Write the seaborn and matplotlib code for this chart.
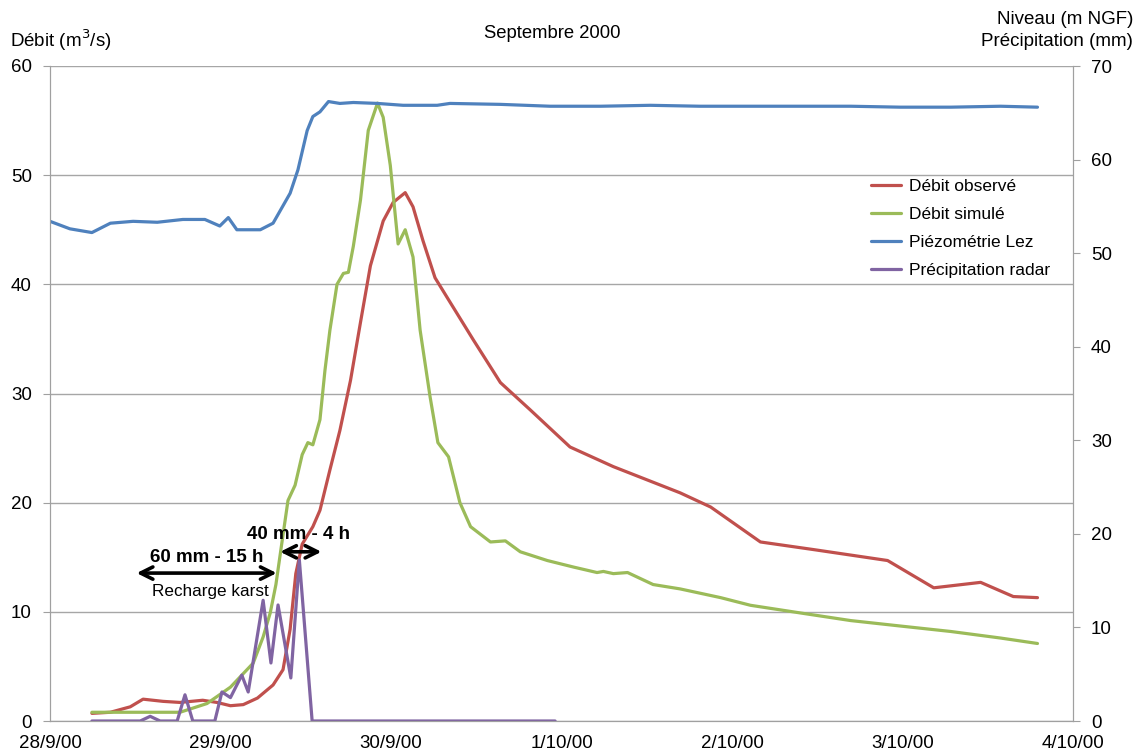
import pandas as pd
import matplotlib.pyplot as plt
import matplotlib.dates as mdates
import seaborn as sns

# hours since 28/9/2000 00:00 and values
obs_hours = [5.9, 8.5, 11.3, 13.1, 15.9, 18.3, 21.5, 23.5, 25.4, 27.2, 29.2, 31.4,
             32.8, 33.8, 34.6, 35.5, 37.0, 38.0, 39.4, 40.8, 42.3, 43.7, 45.1, 46.9,
             48.3, 50.0, 51.1, 52.5, 54.2, 55.9, 59.6, 63.4, 67.6, 73.2, 79.3, 88.7,
             93.0, 100.0, 107.5, 117.9, 124.4, 131.0, 135.6, 139.0]
obs_flow = [0.7, 0.8, 1.3, 2.0, 1.8, 1.7, 1.9, 1.7, 1.4, 1.5, 2.1, 3.3,
            4.7, 8.4, 13.5, 16.2, 17.8, 19.3, 23.0, 26.6, 31.2, 36.5, 41.7, 45.8,
            47.5, 48.4, 47.1, 44.0, 40.6, 38.8, 34.9, 31.0, 28.5, 25.1, 23.3, 20.9,
            19.6, 16.4, 15.7, 14.7, 12.2, 12.7, 11.4, 11.3]

sim_hours = [5.9, 11.3, 18.3, 22.1, 25.4, 28.6, 30.0, 31.0, 31.8, 32.7, 33.5, 34.5,
             35.5, 36.3, 37.0, 38.0, 38.7, 39.4, 40.4, 41.3, 42.0, 42.7, 43.7, 44.8,
             46.1, 46.9, 47.9, 49.0, 50.0, 51.1, 52.1, 53.5, 54.6, 56.1, 57.7, 59.2,
             62.0, 64.1, 66.2, 70.0, 73.7, 77.0, 77.9, 79.3, 81.3, 84.9, 88.7, 94.4,
             98.6, 105.6, 112.7, 119.7, 126.8, 133.8, 139.0]
sim_flow = [0.8, 0.8, 0.8, 1.6, 3.1, 5.3, 7.7, 9.9, 12.5, 16.6, 20.2, 21.6,
            24.4, 25.5, 25.3, 27.6, 32.1, 35.8, 40.0, 41.0, 41.1, 43.5, 47.7, 54.1,
            56.6, 55.3, 50.9, 43.7, 45.0, 42.5, 35.8, 29.7, 25.5, 24.2, 20.0, 17.8,
            16.4, 16.5, 15.5, 14.7, 14.1, 13.6, 13.7, 13.5, 13.6, 12.5, 12.1, 11.3,
            10.6, 9.9, 9.2, 8.7, 8.2, 7.6, 7.1]

piezo_hours = [0.0, 2.8, 5.9, 8.5, 11.7, 15.1, 18.7, 21.8, 23.9, 25.1, 26.3, 29.6,
               31.4, 33.8, 34.9, 36.2, 37.0, 38.0, 39.2, 40.8, 42.7, 46.1, 49.7, 54.5,
               56.3, 63.4, 70.4, 77.5, 84.5, 91.5, 98.6, 105.6, 112.7, 119.7, 126.8,
               133.8, 139.0]
piezo_level = [53.4, 52.6, 52.2, 53.2, 53.4, 53.3, 53.6, 53.6, 52.9, 53.8, 52.5, 52.5,
               53.2, 56.4, 58.9, 63.1, 64.6, 65.1, 66.2, 66.0, 66.1, 66.0, 65.8, 65.8,
               66.0, 65.9, 65.7, 65.7, 65.8, 65.7, 65.7, 65.7, 65.7, 65.6, 65.6,
               65.7, 65.6]

rain_hours = [5.9, 12.7, 14.1, 15.5, 17.9, 19.0, 20.1, 23.2, 24.2, 25.4, 27.0, 27.9,
              30.0, 31.1, 32.1, 33.9, 35.1, 36.9, 71.1]
rain_mm = [0, 0, 0.5, 0, 0, 2.8, 0, 0, 3.1, 2.5, 4.9, 3.1,
           12.9, 6.2, 12.4, 4.6, 17.2, 0, 0]

start = pd.Timestamp('2000-09-28')


def to_frame(hours, values):
    return pd.DataFrame({'t': start + pd.to_timedelta(hours, unit='h'), 'v': values})


def day_label(v, pos):
    d = mdates.num2date(v)
    return f'{d.day}/{d.month}/{d.year % 100:02d}'


sns.set_style('white')
plt.rcParams['font.family'] = ['Liberation Sans', 'DejaVu Sans']
plt.rcParams['text.color'] = 'black'

fig = plt.figure(figsize=(11.36, 7.54), dpi=100)
ax = fig.add_axes([50 / 1136, 1 - 721 / 754, 1023 / 1136, 655 / 754])
ax2 = ax.twinx()

line_kw = dict(lw=2.3, solid_joinstyle='round', solid_capstyle='round', legend=False)
sns.lineplot(data=to_frame(obs_hours, obs_flow), x='t', y='v', ax=ax,
             color='#C0504D', label='Débit observé', **line_kw)
sns.lineplot(data=to_frame(sim_hours, sim_flow), x='t', y='v', ax=ax,
             color='#9BBB59', label='Débit simulé', **line_kw)
sns.lineplot(data=to_frame(piezo_hours, piezo_level), x='t', y='v', ax=ax2,
             color='#4F81BD', label='Piézométrie Lez', **line_kw)
sns.lineplot(data=to_frame(rain_hours, rain_mm), x='t', y='v', ax=ax2,
             color='#8064A2', label='Précipitation radar', **line_kw)

ax.set_xlim(start, start + pd.Timedelta(days=6))
ax.set_ylim(0, 60)
ax2.set_ylim(0, 70)
ax.set_yticks(range(0, 61, 10))
ax2.set_yticks(range(0, 71, 10))
ax.xaxis.set_major_locator(mdates.DayLocator())
ax.xaxis.set_major_formatter(plt.FuncFormatter(day_label))

for a in (ax, ax2):
    a.set_xlabel('')
    a.set_ylabel('')
    a.tick_params(labelsize=13.5, length=5, color='#a0a0a0', labelcolor='black',
                  direction='out', pad=8)
    for s in a.spines.values():
        s.set_color('#a0a0a0')
    a.spines['top'].set_visible(False)
ax.tick_params(axis='x', pad=5)
ax.grid(axis='y', color='#a6a6a6', lw=1)
ax.set_axisbelow(True)

# annotations
arrow = dict(arrowstyle='<->', lw=2.6, color='black', mutation_scale=22)
ax.annotate('', xy=(start + pd.Timedelta(hours=32.3), 13.55),
            xytext=(start + pd.Timedelta(hours=11.8), 13.55), arrowprops=arrow)
ax.annotate('', xy=(start + pd.Timedelta(hours=38.6), 15.5),
            xytext=(start + pd.Timedelta(hours=32.0), 15.5), arrowprops=arrow)
ax.text(start + pd.Timedelta(hours=22.1), 15.0, '60 mm - 15 h', fontsize=13.5,
        fontweight='bold', ha='center', va='center')
ax.text(start + pd.Timedelta(hours=35.0), 17.1, '40 mm - 4 h', fontsize=13.5,
        fontweight='bold', ha='center', va='center')
ax.text(start + pd.Timedelta(hours=22.6), 11.9, 'Recharge karst', fontsize=12.3,
        ha='center', va='center')

fig.text(552 / 1136, 1 - 33 / 754, 'Septembre 2000', fontsize=13.3, ha='center', va='center')
fig.text(10 / 1136, 1 - 40 / 754, 'Débit (m$^3$/s)', fontsize=13.5, ha='left', va='center')
fig.text(1133 / 1136, 1 - 19 / 754, 'Niveau (m NGF)', fontsize=13.5, ha='right', va='center')
fig.text(1133 / 1136, 1 - 42 / 754, 'Précipitation (mm)', fontsize=13.5, ha='right', va='center')

handles = ax.get_lines()[:2] + ax2.get_lines()[:2]
fig.legend(handles, [h.get_label() for h in handles], loc='upper left',
           bbox_to_anchor=(855 / 1136, 1 - 163 / 754), frameon=False, fontsize=12.5,
           handlelength=1.75, labelspacing=0.75, handletextpad=0.45)

fig.savefig('out.png', dpi=100)
